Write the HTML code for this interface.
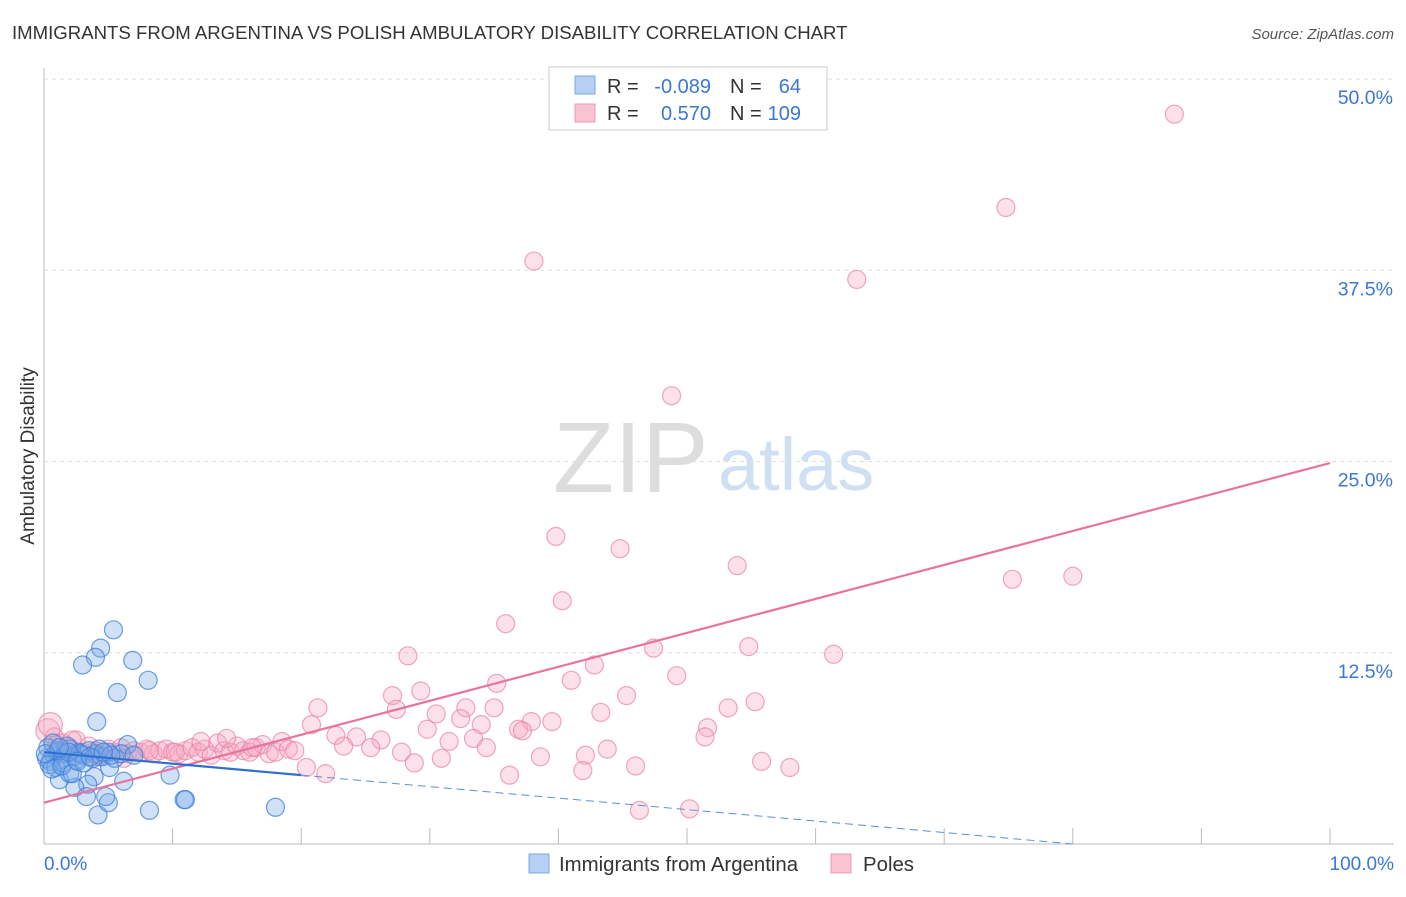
<!DOCTYPE html>
<html><head><meta charset="utf-8"><style>
body{margin:0;background:#fff;font-family:"Liberation Sans",sans-serif}
svg text{font-family:"Liberation Sans",sans-serif}
</style></head><body>
<svg id="c" width="1406" height="892">
<text x="12" y="39" font-size="18.6" fill="#333">IMMIGRANTS FROM ARGENTINA VS POLISH AMBULATORY DISABILITY CORRELATION CHART</text>
<text x="1394" y="39" font-size="15" fill="#555" font-style="italic" text-anchor="end">Source: ZipAtlas.com</text>
<text x="34" y="456" font-size="19" fill="#333" transform="rotate(-90 34 456)" text-anchor="middle">Ambulatory Disability</text>
<text x="553" y="492" font-size="100" fill="#ddd" font-family="Liberation Serif">ZIP</text>
<text x="718" y="490" font-size="74" fill="#cfe0f3">atlas</text>
<g id="grid"></g><g id="pts"></g><g id="lines"></g>
<g>
<rect x="549" y="67" width="278" height="63" fill="#fff" stroke="#ccc"/>
<rect x="575" y="76" width="20" height="18" fill="#b5d0f3" stroke="#7aa8e0"/>
<rect x="575" y="104" width="20" height="18" fill="#f8c3d3" stroke="#eb9ab5"/>
<g font-size="20">
<text x="607" y="93" fill="#333">R =</text><text x="711" y="93" fill="#3a78d4" text-anchor="end">-0.089</text>
<text x="730" y="93" fill="#333">N =</text><text x="801" y="93" fill="#3a78d4" text-anchor="end">64</text>
<text x="607" y="120" fill="#333">R =</text><text x="711" y="120" fill="#3a78d4" text-anchor="end">0.570</text>
<text x="730" y="120" fill="#333">N =</text><text x="801" y="120" fill="#3a78d4" text-anchor="end">109</text>
</g>
</g>
<g>
<rect x="529" y="854" width="20" height="19" fill="#b5d0f3" stroke="#7aa8e0"/>
<text x="559" y="871" font-size="20.4" fill="#333">Immigrants from Argentina</text>
<rect x="831" y="854" width="20" height="19" fill="#f8c3d3" stroke="#eb9ab5"/>
<text x="863" y="871" font-size="20.4" fill="#333">Poles</text>
</g>
<text x="44" y="870" font-size="19" fill="#3a78d4">0.0%</text>
<text x="1394" y="870" font-size="19" fill="#3a78d4" text-anchor="end">100.0%</text>
</svg>
<script>
const yTicks=[12.5,25,37.5,50];
const yTickLabels=["12.5%","25.0%","37.5%","50.0%"];
const xTicks=[0,10,20,30,40,50,60,70,80,90,100];
const pinkX=[38.1,87.9,74.8,63.2,48.8,39.8,44.8,53.9,75.3,80.0,40.3,35.9,28.3,47.4,54.8,61.4,42.8,49.2,41,35.2,29.3,27.1,45.3,55.3,21.3,27.4,32.8,35,53.2,30.5,43.3,32.4,37.9,39.5,20.8,34,51.6,29.8,36.9,37.2,22.7,24.3,31.5,26.2,33.4,51.4,23.3,25.4,34.4,43.8,27.8,42.1,38.6,30.9,28.8,55.8,46,58,41.9,36.2,21.9,46.3,50.2,20.4,
0.3,0.8,1.5,2,2.5,3,3.5,4,4.5,5,5.5,6,6.5,7,7.5,8,8.5,9,9.5,10,10.5,11,11.5,12,12.5,13,13.5,14,14.5,15,15.5,16,16.5,17,17.5,18,18.5,19,19.5,1,2.2,3.2,4.2,6.2,8.2,10.2,12.2,14.2,16.2,0.5];
const pinkY=[38.1,47.7,41.6,36.9,29.3,20.1,19.3,18.2,17.3,17.5,15.9,14.4,12.3,12.8,12.9,12.4,11.7,11.0,10.7,10.5,10.0,9.7,9.7,9.3,8.9,8.8,8.9,8.9,8.9,8.5,8.6,8.2,8.0,8.0,7.8,7.8,7.6,7.5,7.5,7.4,7.1,7.0,6.7,6.8,6.9,7.0,6.4,6.3,6.3,6.2,6.0,5.8,5.7,5.6,5.3,5.4,5.1,5.0,4.8,4.5,4.6,2.2,2.3,5.0,
7.4,7.0,6.6,6.3,6.8,6.0,6.4,6.1,5.8,6.2,6.0,6.3,5.9,6.1,6.0,6.2,5.9,6.1,6.2,6.0,5.9,6.1,6.3,6.0,6.2,5.8,6.6,6.1,6.0,6.4,6.1,6.0,6.3,6.5,5.9,6.0,6.7,6.2,6.1,6.5,6.8,5.8,5.7,5.6,6.1,6.0,6.7,6.9,6.3,7.8];
const blueX=[5.4,4.4,4,3,6.9,8.1,5.7,4.1,6.5,9.8,6.2,8.2,10.9,11,18,4.2,5,4.8,5.1,3.9,3.4,2.4,1.2,2,3.3,
0.2,0.5,0.8,1,1.3,1.6,2,2.3,2.7,3,3.5,4,4.5,5,5.5,6,7,0.4,0.9,1.5,2.5,3.8,0.3,1.1,1.8,2.8,4.3,5.2,0.6,1.4,2.2,3.1,0.7,1.9,2.6,3.6,4.6,1.2,0.1];
const blueY=[14.0,12.8,12.2,11.7,12.0,10.7,9.9,8.0,6.5,4.5,4.1,2.2,2.9,2.9,2.4,1.9,2.7,3.1,5.0,4.4,3.9,3.7,4.2,4.6,3.1,
5.6,5.4,5.8,6.0,5.5,5.9,6.2,5.7,6.0,5.8,6.1,5.9,5.7,6.0,5.6,5.9,5.8,5.2,5.0,5.3,5.5,5.6,6.3,6.1,6.4,5.9,6.2,5.8,4.9,5.1,4.6,5.3,6.6,6.0,5.4,5.7,6.0,6.3,5.9];
const pinkTrend=[2.7,24.9];
const blueTrend=[6.0,0.0];
const X0=44,X1=1330,Y0=844,YS=15.3;
const sx=v=>X0+(X1-X0)*v/100, sy=v=>Y0-YS*v;
const NS="http://www.w3.org/2000/svg";
function mk(t,a,p){const e=document.createElementNS(NS,t);for(const k in a)e.setAttribute(k,a[k]);p.appendChild(e);return e;}
const grid=document.getElementById('grid'),pts=document.getElementById('pts'),lines=document.getElementById('lines');
let ax=mk('line',{x1:X0,y1:68,x2:X0,y2:Y0,stroke:'#bbb'},grid);


let bx=mk('line',{x1:X0,y1:Y0,x2:1394,y2:Y0,stroke:'#bbb'},grid);


yTicks.forEach((v,i)=>{
 let g=mk('line',{x1:X0,y1:sy(v),x2:1394,y2:sy(v),stroke:'#ddd','stroke-dasharray':'4 4'},grid);
 
 
 let t=mk('text',{x:1393,y:sy(v)+25,'font-size':19.5,fill:'#3a78d4','text-anchor':'end'},grid);
 t.textContent=yTickLabels[i];
 
 
});
xTicks.forEach(v=>{
 let t=mk('line',{x1:sx(v),y1:Y0,x2:sx(v),y2:Y0-16,stroke:'#bbb'},grid);
 
 
});
pinkX.forEach((x,i)=>{
 let c=mk('circle',{cx:sx(x),cy:sy(pinkY[i]),r:(x<1&&pinkY[i]>7)?12:9,fill:'rgba(246,170,196,0.35)',stroke:'rgba(232,130,165,0.7)','stroke-width':1.2},pts);
 
 
});
blueX.forEach((x,i)=>{
 let c=mk('circle',{cx:sx(x),cy:sy(blueY[i]),r:9,fill:'rgba(120,170,232,0.35)',stroke:'rgba(60,125,215,0.75)','stroke-width':1.2},pts);
 
 
});
const bY=x=>blueTrend[0]+(blueTrend[1]-blueTrend[0])*x/80;
let l1=mk('line',{x1:sx(0),y1:sy(pinkTrend[0]),x2:sx(100),y2:sy(pinkTrend[1]),stroke:'#e8739c','stroke-width':2.2},lines);


let l2=mk('line',{x1:sx(0),y1:sy(bY(0)),x2:sx(20),y2:sy(bY(20)),stroke:'#2f6fd0','stroke-width':2.2},lines);


let l3=mk('line',{x1:sx(20),y1:sy(bY(20)),x2:sx(80),y2:sy(bY(80)),stroke:'#5b8fd9','stroke-width':1,'stroke-dasharray':'8 5'},lines);


</script>
</body></html>
